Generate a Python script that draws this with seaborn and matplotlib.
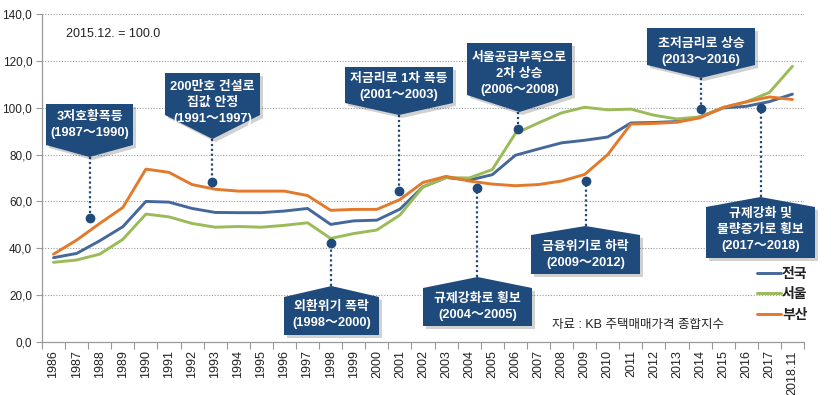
import numpy as np
import pandas as pd
import matplotlib
matplotlib.use("Agg")
import matplotlib.pyplot as plt
import seaborn as sns
from matplotlib.patches import Polygon
from matplotlib.lines import Line2D

# ---------------- data ----------------
years = ['1986', '1987', '1988', '1989', '1990', '1991', '1992', '1993', '1994', '1995',
         '1996', '1997', '1998', '1999', '2000', '2001', '2002', '2003', '2004', '2005',
         '2006', '2007', '2008', '2009', '2010', '2011', '2012', '2013', '2014', '2015',
         '2016', '2017', '2018.11']
nationwide = [36.0, 37.8, 43.2, 49.2, 60.0, 59.7, 57.0, 55.3, 55.2, 55.2,
              55.9, 57.0, 50.2, 51.7, 52.0, 56.7, 66.2, 70.2, 69.1, 71.4,
              79.7, 82.4, 85.0, 86.1, 87.5, 93.5, 93.7, 94.1, 96.1, 99.9,
              100.6, 102.6, 105.8]
seoul = [34.0, 35.0, 37.5, 43.8, 54.6, 53.4, 50.6, 49.0, 49.3, 49.0,
         49.8, 50.9, 44.2, 46.3, 47.8, 54.2, 66.2, 70.2, 70.0, 73.6,
         89.0, 93.5, 97.8, 100.2, 99.1, 99.4, 96.8, 95.2, 96.1, 100.1,
         102.5, 106.5, 117.7]
busan = [37.5, 43.5, 50.6, 57.4, 73.8, 72.4, 67.2, 65.2, 64.4, 64.4,
         64.4, 62.5, 56.2, 56.6, 56.6, 60.8, 68.1, 70.7, 68.7, 67.4,
         66.7, 67.2, 68.7, 71.5, 80.0, 93.0, 93.3, 93.8, 95.7, 100.1,
         102.5, 104.6, 103.5]
series_names = ['전국', '서울', '부산']
y_ticks = [0, 20, 40, 60, 80, 100, 120, 140]

# annotation texts and the (category position, index value) they point at
notes = ['3저호황폭등\n(1987～1990)', '200만호 건설로\n집값 안정\n(1991～1997)',
         '저금리로 1차 폭등\n(2001～2003)', '서울공급부족으로\n2차 상승\n(2006～2008)',
         '초저금리로 상승\n(2013～2016)', '외환위기 폭락\n(1998～2000)',
         '규제강화로 횡보\n(2004～2005)', '금융위기로 하락\n(2009～2012)',
         '규제강화 및\n물량증가로 횡보\n(2017～2018)']
note_x = [1.58, 6.86, 14.96, 20.13, 28.04, 12.02, 18.33, 23.05, 30.63]
note_y = [53.0, 68.4, 64.6, 90.8, 99.4, 42.1, 65.6, 68.7, 100.0]

# ---------------- styling ----------------
sns.set_theme(style='white')
plt.rcParams['font.family'] = ['Liberation Sans', 'Noto Sans CJK KR', 'DejaVu Sans']
plt.rcParams['axes.unicode_minus'] = False

W, H = 836, 395
fig = plt.figure(figsize=(W / 100, H / 100), dpi=100)
AX_L, AX_R, AX_T, AX_B = 42, 804, 14, 342
ax = fig.add_axes([AX_L / W, (H - AX_B) / H, (AX_R - AX_L) / W, (AX_B - AX_T) / H])

n = len(years)
df = pd.DataFrame({
    'idx': list(range(n)) * 3,
    'value': nationwide + seoul + busan,
    'region': [series_names[0]] * n + [series_names[1]] * n + [series_names[2]] * n,
})
palette = {'전국': '#44689a', '서울': '#9bbb59', '부산': '#e3792b'}
sns.lineplot(data=df, x='idx', y='value', hue='region', hue_order=series_names,
             palette=palette, linewidth=2.1, ax=ax, legend=False, zorder=3)

ax.set_xlim(-0.5, n - 0.5)
ax.set_ylim(0, 140)
ax.set_xlabel('')
ax.set_ylabel('')

# y axis
ax.set_yticks(y_ticks)
ax.set_yticklabels([f'{v:.1f}'.replace('.', ',') for v in y_ticks], fontsize=8.5, color='#222222')
ax.tick_params(axis='y', length=4, width=0.8, color='#999999', pad=3, left=True)
for v in y_ticks[1:]:
    ax.axhline(v, color='#9a9a9a', linestyle=(0, (1, 1.5)), linewidth=0.8, zorder=1)

# x axis: labels at centres, tick marks at boundaries
ax.set_xticks(range(n))
ax.set_xticklabels(years, rotation=90, fontsize=9, color='#222222',
                   family=['Liberation Sans Narrow', 'Liberation Sans'])
ax.tick_params(axis='x', which='major', length=0, pad=6)
ax.set_xticks(np.arange(-0.5, n, 1.0), minor=True)
ax.tick_params(axis='x', which='minor', length=5, width=0.8, color='#999999', bottom=True)

for s in ['top', 'right']:
    ax.spines[s].set_visible(False)
for s in ['left', 'bottom']:
    ax.spines[s].set_color('#999999')
    ax.spines[s].set_linewidth(0.9)


# ---------------- callouts ----------------
def dx(px):
    return -0.5 + (px - AX_L) / ((AX_R - AX_L) / n)


def dy(py):
    return (AX_B - py) / ((AX_B - AX_T) / 140.0)


navy = '#1f4a7c'
# box layout in pixels: x0, x1, flat edge y, corner y, apex y, text centre y
boxes = [
    (46, 133, 104, 145, 157, 125),
    (165, 260, 73, 115, 139, 103),
    (345, 453, 67, 103, 115, 87),
    (467, 572, 43, 95, 112, 74),
    (647, 755, 28, 65, 78, 52),
    (284, 379, 335, 297, 286, 315),
    (423, 532, 326, 288, 277, 306.5),
    (531, 640, 274, 235, 226, 254.7),
    (706, 815, 258, 207, 197, 229.5),
]
for text, nx, ny, (x0, x1, yf, yc, ya, ty) in zip(notes, note_x, note_y, boxes):
    xc = (x0 + x1) / 2
    pts = [(x0, yf), (x1, yf), (x1, yc), (xc, ya), (x0, yc)]
    shadow = Polygon([(dx(px + 3), dy(py + 3)) for px, py in pts], closed=True,
                     facecolor='#000000', alpha=0.18, edgecolor='none',
                     zorder=5, clip_on=False)
    ax.add_patch(shadow)
    poly = Polygon([(dx(px), dy(py)) for px, py in pts], closed=True,
                   facecolor=navy, edgecolor='none', zorder=6, clip_on=False)
    ax.add_patch(poly)
    ax.text(dx(xc), dy(ty), text, ha='center', va='center', color='white',
            fontsize=9.3, fontweight='bold', linespacing=1.45, zorder=7, clip_on=False,
            family=['Liberation Sans', 'Noto Sans CJK KR'])
    # dotted leader from apex to the marked point
    ax.plot([nx, nx], [dy(ya), ny], color=navy, linestyle=(0, (1, 1.2)),
            linewidth=1.6, zorder=4)
    ax.plot([nx], [ny], marker='o', markersize=6, color=navy, zorder=6)

# ---------------- texts ----------------
ax.text(dx(66), dy(34), '2015.12. = 100.0', ha='left', va='center',
        fontsize=9, color='#222222')
ax.text(dx(552), dy(325), '자료 : KB 주택매매가격 종합지수', ha='left', va='center',
        fontsize=9, color='#222222', family=['Liberation Sans', 'Noto Sans CJK KR'])

# legend
handles = [Line2D([0], [0], color=palette[k], linewidth=2.1) for k in series_names]
leg = ax.legend(handles, series_names, loc='upper left', frameon=False,
                bbox_to_anchor=((757 - AX_L) / (AX_R - AX_L), (AX_B - 267) / (AX_B - AX_T)),
                borderpad=0, borderaxespad=0, handlelength=1.7, handletextpad=0.1,
                labelspacing=0.45, prop={'size': 10, 'weight': 'bold',
                                         'family': ['Noto Sans CJK KR']})
for t in leg.get_texts():
    t.set_color('#222222')

fig.savefig('out.png', dpi=100)
